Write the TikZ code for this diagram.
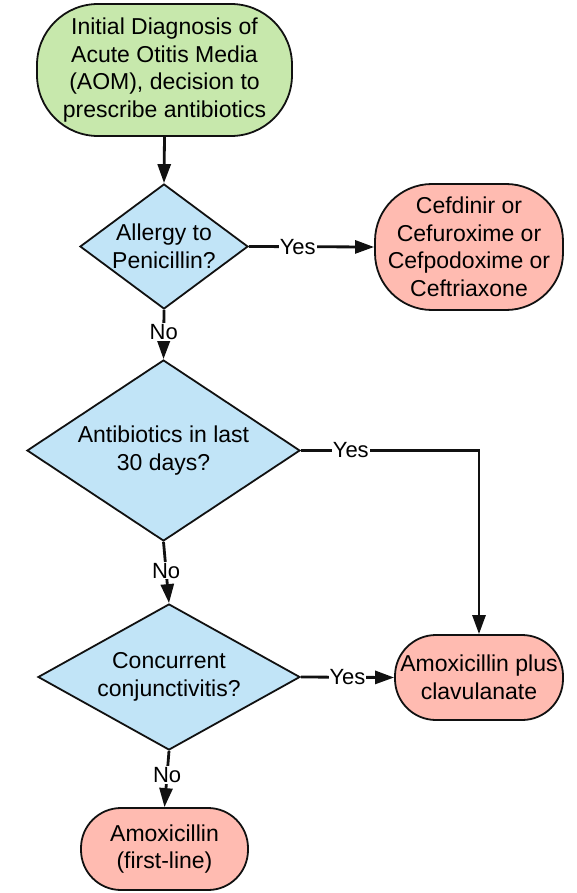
\documentclass[tikz,border=0pt]{standalone}
\usepackage{fontspec}
\setmainfont{Liberation Sans}
\usetikzlibrary{arrows.meta,shapes.geometric}
\definecolor{startc}{HTML}{C7E8AC}
\definecolor{askc}{HTML}{C1E4F7}
\definecolor{drugc}{HTML}{FFBBB1}
\definecolor{linec}{HTML}{111111}
\tikzset{
  >={Triangle[length=19pt,width=13pt]},
  box/.style={draw=linec,line width=1.8pt,align=center,inner sep=0pt,font=\fontsize{23}{27.5}\selectfont},
  startbox/.style={box,fill=startc,rounded corners=61pt},
  drug/.style={box,fill=drugc,rounded corners=57pt},
  ask/.style={box,shape=diamond,fill=askc,inner sep=-18pt},
  flow/.style={->,draw=linec,line width=2.8pt},
  lbl/.style={fill=white,inner sep=1pt,font=\fontsize{22}{26}\selectfont},
}

\begin{document}
\begin{tikzpicture}[x=1pt,y=-1pt]
  \useasboundingbox (0,0) rectangle (577,893);
  % start and questions
  \node[startbox,minimum width=255pt,minimum height=132pt] (start) at (164.5,70)
    {Initial Diagnosis of\\Acute Otitis Media\\(AOM), decision to\\prescribe antibiotics};
  \node[ask,minimum width=168pt,minimum height=125pt] (allergy) at (164,246.5) {Allergy to\\Penicillin?};
  \node[ask,minimum width=273pt,minimum height=181pt] (recent) at (163.5,450.5) {Antibiotics in last\\30 days?};
  \node[ask,minimum width=262pt,minimum height=146pt] (conj) at (169,677) {Concurrent\\conjunctivitis?};
  % outcomes
  \node[drug,minimum width=188pt,minimum height=126pt] (ceph) at (469,247)
    {Cefdinir or\\Cefuroxime or\\Cefpodoxime or\\Ceftriaxone};
  \node[drug,minimum width=168pt,minimum height=85pt,rounded corners=41pt] (clav) at (479,677.5)
    {Amoxicillin plus\\clavulanate};
  \node[drug,minimum width=167pt,minimum height=82pt,rounded corners=40pt] (amox) at (164.5,849)
    {Amoxicillin\\(first-line)};
  % connectors
  \draw[flow] (start.south) -- (allergy.north);
  \draw[flow] (allergy.east) -- node[lbl,pos=0.39]{Yes} (ceph.west);
  \draw[flow] (allergy.south) -- node[lbl,pos=0.45]{No} (recent.north);
  \draw[flow] (recent.east) -| node[lbl,pos=0.14]{Yes} (clav.north);
  \draw[flow] (recent.south) -- node[lbl,pos=0.47]{No} (conj.north);
  \draw[flow] (conj.east) -- node[lbl,pos=0.5]{Yes} (clav.west);
  \draw[flow] (conj.south) -- node[lbl,pos=0.43]{No} (amox.north);
\end{tikzpicture}
\end{document}
